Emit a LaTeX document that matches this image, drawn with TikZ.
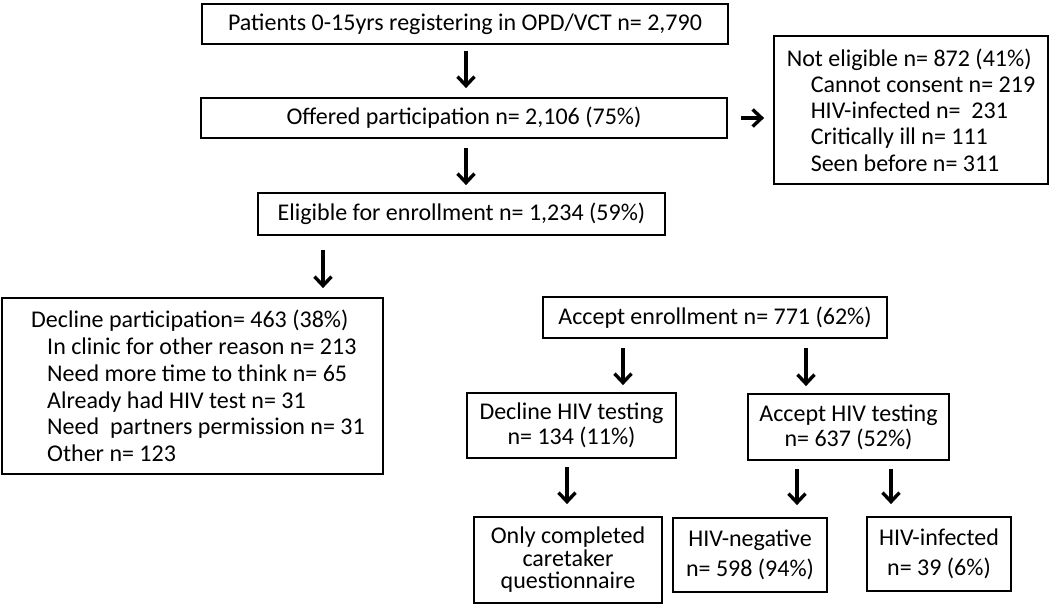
\documentclass[tikz,border=0pt]{standalone}
\usepackage{fontspec}
\setmainfont{Carlito}
\usetikzlibrary{arrows.meta}
\begin{document}
\begin{tikzpicture}[x=1pt,y=-1pt,
  box/.style={draw,line width=1.8pt,inner sep=0pt,align=center,font=\fontsize{24}{26}\selectfont},
  arr/.style={line width=3.4pt,-{Straight Barb[length=9pt,width=17pt,line width=3.4pt]}}]
\useasboundingbox (0,0) rectangle (1050,607);
\fill[white] (0,0) rectangle (1050,607);
\node[box,minimum width=526pt,minimum height=40pt] (b1) at (465,24) {Patients 0-15yrs registering in OPD/VCT n= 2,790};
\node[box,minimum width=526pt,minimum height=40pt] (b2) at (464,118) {Offered participation n= 2,106 (75\%)};
\node[box,minimum width=274pt,minimum height=148pt,align=left,font=\fontsize{24}{26.3}\selectfont] (b3) at (911,110)
  {Not eligible n= 872 (41\%)\\
   \hspace*{24pt}Cannot consent n= 219\\
   \hspace*{24pt}HIV-infected n=~~231\\
   \hspace*{24pt}Critically ill n= 111\\
   \hspace*{24pt}Seen before n= 311};
\node[box,minimum width=407pt,minimum height=42pt] (b4) at (461.5,214) {Eligible for enrollment n= 1,234 (59\%)};
\node[box,minimum width=381pt,minimum height=176pt,align=left,font=\fontsize{24}{26.8}\selectfont] (b5) at (192.5,386)
  {\hspace*{11pt}Decline participation= 463 (38\%)\\
   \hspace*{27pt}In clinic for other reason n= 213\\
   \hspace*{27pt}Need more time to think n= 65\\
   \hspace*{27pt}Already had HIV test n= 31\\
   \hspace*{27pt}Need~~partners permission n= 31\\
   \hspace*{27pt}Other n= 123};
\node[box,minimum width=344pt,minimum height=41pt] (b6) at (715,317.5) {Accept enrollment n= 771 (62\%)};
\node[box,minimum width=209pt,minimum height=65pt,font=\fontsize{24}{25}\selectfont] (b7) at (571.5,425.5) {Decline HIV testing\\n= 134 (11\%)};
\node[box,minimum width=201pt,minimum height=66pt,font=\fontsize{24}{25}\selectfont] (b8) at (848.5,427) {Accept HIV testing\\n= 637 (52\%)};
\node[box,minimum width=188pt,minimum height=86pt,font=\fontsize{24}{22.5}\selectfont] (b9) at (568,560) {Only completed\\caretaker\\questionnaire};
\node[box,minimum width=154pt,minimum height=74pt,font=\fontsize{24}{30}\selectfont] (b10) at (750,555) {HIV-negative\\n= 598 (94\%)};
\node[box,minimum width=144pt,minimum height=74pt,font=\fontsize{24}{30}\selectfont] (b11) at (939,554) {HIV-infected\\n= 39 (6\%)};
\coordinate (c1) at (466,0);
\coordinate (c3) at (323,0);
\coordinate (c6a) at (623,0);
\coordinate (c6b) at (806,0);
\coordinate (c9) at (567,0);
\coordinate (c10) at (797,0);
\coordinate (c11) at (891,0);
\draw[arr,shorten <=6pt,shorten >=9pt] (b1.south -| c1) -- (b2.north -| c1);
\draw[arr,shorten <=9pt,shorten >=7pt] (b2.south -| c1) -- (b4.north -| c1);
\draw[arr,shorten <=13pt,shorten >=9pt] (b2.east) -- (b3.west |- b2.east);
\draw[arr,shorten <=14pt,shorten >=9pt] (b4.south -| c3) -- (b5.north -| c3);
\draw[arr,shorten <=9pt,shorten >=7pt] (b6.south -| c6a) -- (b7.north -| c6a);
\draw[arr,shorten <=9pt,shorten >=7pt] (b6.south -| c6b) -- (b8.north -| c6b);
\draw[arr,shorten <=8pt,shorten >=12pt] (b7.south -| c9) -- (b9.north -| c9);
\draw[arr,shorten <=8pt,shorten >=12pt] (b8.south -| c10) -- (b10.north -| c10);
\draw[arr,shorten <=8pt,shorten >=12pt] (b8.south -| c11) -- (b11.north -| c11);
\end{tikzpicture}
\end{document}
